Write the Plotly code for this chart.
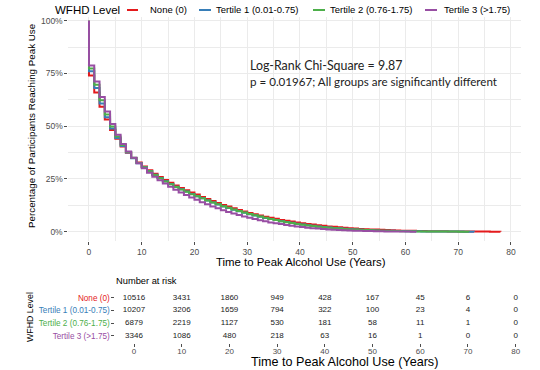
import plotly.graph_objects as go

W, H = 540, 370

# ---------------- data ----------------
groups = ["None (0)", "Tertile 1 (0.01-0.75)", "Tertile 2 (0.76-1.75)", "Tertile 3 (>1.75)"]
colors = ["#E41A1C", "#377EB8", "#4DAF4A", "#984EA3"]

time_none = list(range(0, 79))
surv_none = [0.740, 0.660, 0.592, 0.532, 0.482, 0.440, 0.404, 0.374, 0.349, 0.328,
             0.309, 0.291, 0.275, 0.259, 0.245, 0.232, 0.219, 0.207, 0.196, 0.186,
             0.176, 0.165, 0.155, 0.145, 0.136, 0.127, 0.119, 0.111, 0.103, 0.096,
             0.089, 0.083, 0.077, 0.071, 0.066, 0.061, 0.056, 0.052, 0.048, 0.044,
             0.040, 0.037, 0.034, 0.031, 0.028, 0.025, 0.023, 0.021, 0.019, 0.017,
             0.015, 0.013, 0.012, 0.011, 0.010, 0.009, 0.008, 0.007, 0.006, 0.005,
             0.0045, 0.004, 0.0035, 0.003, 0.0027, 0.0024, 0.0021, 0.0018, 0.0015, 0.0012,
             0.0010, 0.0009, 0.0008, 0.0007, 0.0006, 0.0005, 0.0004, 0.0003, 0.0]

time_t1 = list(range(0, 74))
surv_t1 = [0.760, 0.681, 0.608, 0.543, 0.489, 0.444, 0.406, 0.375, 0.348, 0.325,
           0.305, 0.287, 0.270, 0.254, 0.239, 0.226, 0.213, 0.201, 0.190, 0.179,
           0.168, 0.158, 0.148, 0.138, 0.129, 0.120, 0.112, 0.104, 0.097, 0.090,
           0.083, 0.077, 0.071, 0.065, 0.060, 0.055, 0.050, 0.046, 0.042, 0.038,
           0.034, 0.031, 0.028, 0.025, 0.022, 0.020, 0.018, 0.016, 0.014, 0.012,
           0.010, 0.009, 0.008, 0.007, 0.006, 0.005, 0.0045, 0.004, 0.0035, 0.003,
           0.0026, 0.0022, 0.0019, 0.0016, 0.0013, 0.0011, 0.0009, 0.0008, 0.0007, 0.0006,
           0.0005, 0.0004, 0.0003, 0.0]

time_t2 = list(range(0, 73))
surv_t2 = [0.773, 0.697, 0.623, 0.556, 0.499, 0.451, 0.411, 0.378, 0.350, 0.326,
           0.305, 0.286, 0.269, 0.253, 0.238, 0.225, 0.212, 0.200, 0.189, 0.178,
           0.168, 0.158, 0.148, 0.139, 0.130, 0.121, 0.113, 0.105, 0.098, 0.091,
           0.084, 0.078, 0.072, 0.066, 0.060, 0.055, 0.050, 0.045, 0.041, 0.037,
           0.033, 0.030, 0.027, 0.024, 0.021, 0.019, 0.017, 0.015, 0.013, 0.011,
           0.010, 0.009, 0.008, 0.007, 0.006, 0.005, 0.0042, 0.0036, 0.003, 0.0025,
           0.0021, 0.0018, 0.0015, 0.0013, 0.0011, 0.0009, 0.0008, 0.0007, 0.0006, 0.0005,
           0.0004, 0.0003, 0.0]

time_t3 = list(range(0, 63))
surv_t3 = [0.788, 0.712, 0.638, 0.570, 0.510, 0.459, 0.416, 0.380, 0.350, 0.324,
           0.301, 0.280, 0.261, 0.244, 0.228, 0.213, 0.199, 0.186, 0.174, 0.162,
           0.151, 0.140, 0.130, 0.120, 0.111, 0.102, 0.094, 0.086, 0.079, 0.072,
           0.066, 0.060, 0.054, 0.049, 0.044, 0.040, 0.036, 0.032, 0.028, 0.025,
           0.022, 0.019, 0.017, 0.015, 0.013, 0.011, 0.009, 0.008, 0.007, 0.006,
           0.005, 0.0042, 0.0035, 0.003, 0.0025, 0.002, 0.0016, 0.0013, 0.001, 0.0007,
           0.0005, 0.0003, 0.0]

risk_times = [0, 10, 20, 30, 40, 50, 60, 70, 80]
risk_none = [10516, 3431, 1860, 949, 428, 167, 45, 6, 0]
risk_t1 = [10207, 3206, 1659, 794, 322, 100, 23, 4, 0]
risk_t2 = [6879, 2219, 1127, 530, 181, 58, 11, 1, 0]
risk_t3 = [3346, 1086, 480, 218, 63, 16, 1, 0, 0]

x_ticks = [0, 10, 20, 30, 40, 50, 60, 70, 80]
y_ticks = [0, 0.25, 0.5, 0.75, 1.0]
y_ticklabels = ["0%", "25%", "50%", "75%", "100%"]

chi_text = "Log-Rank Chi-Square = 9.87"
p_text = "p = 0.01967; All groups are significantly different"

# ---------------- helpers ----------------
def px(x):
    return x / W

def py(y):
    return 1 - y / H

FONT = "Liberation Sans, Arial, sans-serif"
GRID = "#EBEBEB"
TICKC = "#4D4D4D"

fig = go.Figure()

series = [(time_none, surv_none), (time_t1, surv_t1), (time_t2, surv_t2), (time_t3, surv_t3)]
for (t, s), name, col in zip(series, groups, colors):
    fig.add_trace(go.Scatter(
        x=[0] + t, y=[1.0] + s, mode="lines", name=name,
        line=dict(color=col, width=2, shape="hv"), showlegend=False,
        xaxis="x", yaxis="y"))

risks = [risk_none, risk_t1, risk_t2, risk_t3]
rows = [4, 3, 2, 1]
for r, row in zip(risks, rows):
    fig.add_trace(go.Scatter(
        x=risk_times, y=[row] * len(risk_times), mode="text",
        text=[str(v) for v in r], textfont=dict(family=FONT, size=8, color="#1A1A1A"),
        showlegend=False, xaxis="x2", yaxis="y2", hoverinfo="skip"))

row_labels = [f'<span style="color:{c}">{g}</span>' for g, c in zip(groups, colors)]

fig.update_layout(
    width=W, height=H,
    margin=dict(l=0, r=0, t=0, b=0),
    paper_bgcolor="white", plot_bgcolor="white",
    font=dict(family=FONT, color="#000000"),
    xaxis=dict(domain=[px(68.4), px(521)], range=[-3.9, 81.9], tickvals=x_ticks,
               showgrid=True, gridcolor=GRID, gridwidth=1.3, zeroline=False, showline=False,
               ticks="outside", ticklen=3, tickcolor=TICKC, tickwidth=1,
               tickfont=dict(size=8.5, color=TICKC),
               minor=dict(tickvals=[5, 15, 25, 35, 45, 55, 65, 75], showgrid=True,
                          gridcolor=GRID, gridwidth=0.8, ticks=""),
               anchor="y"),
    yaxis=dict(domain=[py(241), py(17)], range=[-0.044, 1.0175], tickvals=y_ticks,
               ticktext=y_ticklabels,
               showgrid=True, gridcolor=GRID, gridwidth=1.3, zeroline=False, showline=False,
               ticks="outside", ticklen=3, tickcolor=TICKC, tickwidth=1,
               tickfont=dict(size=8.5, color=TICKC),
               minor=dict(tickvals=[0.125, 0.375, 0.625, 0.875], showgrid=True,
                          gridcolor=GRID, gridwidth=0.8, ticks=""),
               anchor="x"),
    xaxis2=dict(domain=[px(115.4), px(524.7)], range=[-3.9, 81.9], tickvals=x_ticks,
                showgrid=False, zeroline=False, showline=False,
                ticks="outside", ticklen=3, tickcolor=TICKC, tickwidth=1,
                ticklabelstandoff=-3,
                tickfont=dict(size=8, color=TICKC), anchor="y2"),
    yaxis2=dict(domain=[py(343.3), py(290.1)], range=[0.4, 4.6], tickvals=rows,
                ticktext=row_labels, showgrid=False, zeroline=False, showline=False,
                ticks="outside", ticklen=3, tickcolor=TICKC, tickwidth=1,
                tickfont=dict(size=8.2), anchor="x2"),
)

ann = []
def add_text(x, y, text, size, xanchor="center", angle=0, family=FONT, color="#000000"):
    ann.append(dict(x=px(x), y=py(y), xref="paper", yref="paper", text=text,
                    showarrow=False, xanchor=xanchor, yanchor="middle", textangle=angle,
                    font=dict(size=size, family=family, color=color)))

add_text(248, 66, chi_text, 12.4, xanchor="left", family="Lato, Noto Sans, sans-serif", color="#222222")
add_text(248, 81, p_text, 11.6, xanchor="left", family="Lato, Noto Sans, sans-serif", color="#222222")
add_text(31, 126, "Percentage of Participants Reaching Peak Use", 9.8, angle=-90)
add_text(301, 262, "Time to Peak Alcohol Use (Years)", 11.4)
add_text(146, 281, "Number at risk", 9.3)
add_text(30, 317, "WFHD Level", 8.8, angle=-90)
add_text(344, 362, "Time to Peak Alcohol Use (Years)", 12.6)

# legend (drawn manually)
add_text(53, 10, "WFHD Level", 11.5, xanchor="left")
leg_line = [(127, 138), (199, 211), (313, 325), (425, 437)]
leg_text = [148, 214, 328, 442]
shapes = []
for (a, b), tx, g, c in zip(leg_line, leg_text, groups, colors):
    shapes.append(dict(type="line", xref="paper", yref="paper", x0=px(a), x1=px(b),
                       y0=py(10), y1=py(10), line=dict(color=c, width=2)))
    add_text(tx, 10, g, 9.5, xanchor="left")

fig.update_layout(annotations=ann, shapes=shapes)

fig.write_html("out.html", config={"displayModeBar": False},
               post_script="document.body.style.margin='0';document.body.style.padding='0';")
